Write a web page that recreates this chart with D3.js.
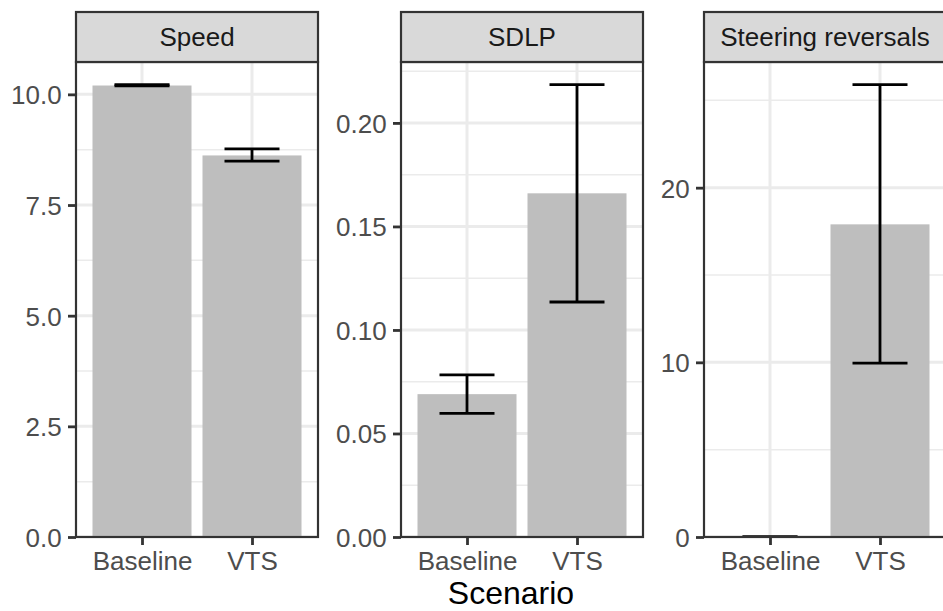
<!DOCTYPE html>
<html><head><meta charset="utf-8">
<script src="https://cdn.jsdelivr.net/npm/d3@7"></script>
<style>
html,body{margin:0;padding:0;background:#fff;}
svg{display:block;font-family:"Liberation Sans",Arial,Helvetica,sans-serif;}
</style></head>
<body><svg id="chart" width="943" height="611"></svg>
<script>
const categories = ["Baseline", "VTS"];
const facets = ["Speed", "SDLP", "Steering reversals"];
const speedMean = [10.20, 8.62];
const speedLower = [10.19, 8.49];
const speedUpper = [10.22, 8.77];
const sdlpMean = [0.069, 0.166];
const sdlpLower = [0.0597, 0.1135];
const sdlpUpper = [0.0783, 0.2185];
const steerMean = [0, 17.9];
const steerLower = [0, 9.95];
const steerUpper = [0, 25.9];
const speedTicks = [0, 2.5, 5, 7.5, 10];
const speedMinor = [1.25, 3.75, 6.25, 8.75];
const sdlpTicks = [0, 0.05, 0.10, 0.15, 0.20];
const sdlpMinor = [0.025, 0.075, 0.125, 0.175, 0.225];
const steerTicks = [0, 10, 20];
const steerMinor = [5, 15, 25];
const xTitle = "Scenario";

const panels = [
  {name: facets[0], mean: speedMean, lo: speedLower, hi: speedUpper, ticks: speedTicks, minor: speedMinor, fmt: d3.format(".1f")},
  {name: facets[1], mean: sdlpMean, lo: sdlpLower, hi: sdlpUpper, ticks: sdlpTicks, minor: sdlpMinor, fmt: d3.format(".2f")},
  {name: facets[2], mean: steerMean, lo: steerLower, hi: steerUpper, ticks: steerTicks, minor: steerMinor, fmt: d3.format("d")}
];

const svg = d3.select("#chart");
const panelLeft = [76, 401, 704];
const panelW = 242;
const stripTop = 12, panelTop = 62, panelBottom = 537;
const border = "#333333", grid = "#EBEBEB", barFill = "#BEBEBE", textCol = "#4D4D4D";
const fs = 26, titleFs = 32;
const fontFam = "Liberation Sans, Arial, sans-serif";

panels.forEach((p, i) => {
  const x0 = panelLeft[i];
  const x = d3.scalePoint().domain(categories).range([x0, x0 + panelW]).padding(0.6);
  const step = x.step();
  const ymax = d3.max(p.hi.concat(p.mean)) * 1.05;
  const y = d3.scaleLinear().domain([0, ymax]).range([panelBottom, panelTop]);
  const g = svg.append("g");

  const clipId = "clip" + i;
  svg.append("clipPath").attr("id", clipId).append("rect")
    .attr("x", x0).attr("y", panelTop).attr("width", panelW).attr("height", panelBottom - panelTop);
  const inner = g.append("g").attr("clip-path", `url(#${clipId})`);

  inner.append("rect").attr("x", x0).attr("y", panelTop).attr("width", panelW).attr("height", panelBottom - panelTop).attr("fill", "#fff");
  inner.selectAll(".ymin").data(p.minor).join("line")
    .attr("x1", x0).attr("x2", x0 + panelW)
    .attr("y1", d => y(d)).attr("y2", d => y(d))
    .attr("stroke", grid).attr("stroke-width", 1.5);
  inner.selectAll(".ymaj").data(p.ticks).join("line")
    .attr("x1", x0).attr("x2", x0 + panelW)
    .attr("y1", d => y(d)).attr("y2", d => y(d))
    .attr("stroke", grid).attr("stroke-width", 3);
  inner.selectAll(".xmaj").data(categories).join("line")
    .attr("x1", d => x(d)).attr("x2", d => x(d))
    .attr("y1", panelTop).attr("y2", panelBottom)
    .attr("stroke", grid).attr("stroke-width", 3);

  inner.selectAll(".bar").data(categories).join("rect")
    .attr("x", d => x(d) - step * 0.45)
    .attr("width", step * 0.9)
    .attr("y", (d, j) => y(p.mean[j]))
    .attr("height", (d, j) => y(0) - y(p.mean[j]))
    .attr("fill", barFill);

  const eb = inner.selectAll(".eb").data(categories).join("g");
  const hw = step * 0.25;
  const ebw = 2.8;
  eb.append("line")
    .attr("x1", d => x(d)).attr("x2", d => x(d))
    .attr("y1", (d, j) => y(p.lo[j])).attr("y2", (d, j) => y(p.hi[j]))
    .attr("stroke", "#000").attr("stroke-width", ebw);
  eb.append("line")
    .attr("x1", d => x(d) - hw).attr("x2", d => x(d) + hw)
    .attr("y1", (d, j) => y(p.lo[j])).attr("y2", (d, j) => y(p.lo[j]))
    .attr("stroke", "#000").attr("stroke-width", ebw);
  eb.append("line")
    .attr("x1", d => x(d) - hw).attr("x2", d => x(d) + hw)
    .attr("y1", (d, j) => y(p.hi[j])).attr("y2", (d, j) => y(p.hi[j]))
    .attr("stroke", "#000").attr("stroke-width", ebw);

  g.append("rect").attr("x", x0).attr("y", panelTop).attr("width", panelW).attr("height", panelBottom - panelTop)
    .attr("fill", "none").attr("stroke", border).attr("stroke-width", 2.2);
  g.append("rect").attr("x", x0).attr("y", stripTop).attr("width", panelW).attr("height", panelTop - stripTop)
    .attr("fill", "#D9D9D9").attr("stroke", border).attr("stroke-width", 2.2);
  g.append("text").attr("x", x0 + panelW / 2).attr("y", (stripTop + panelTop) / 2)
    .attr("text-anchor", "middle").attr("dy", "0.36em")
    .attr("font-size", fs).attr("font-family", fontFam).attr("fill", "#1A1A1A").text(p.name);

  const yAxis = d3.axisLeft(y).tickValues(p.ticks).tickFormat(p.fmt).tickSize(8).tickPadding(6.3);
  const ya = g.append("g").attr("transform", `translate(${x0},0)`).call(yAxis);
  ya.select(".domain").remove();
  ya.selectAll(".tick line").attr("stroke", border).attr("stroke-width", 2.8);
  ya.selectAll(".tick text").attr("fill", textCol).attr("font-size", fs).attr("font-family", fontFam)
    .attr("dy", "0.36em");

  const xAxis = d3.axisBottom(x).tickSize(8).tickPadding(6.7);
  const xa = g.append("g").attr("transform", `translate(0,${panelBottom})`).call(xAxis);
  xa.select(".domain").remove();
  xa.selectAll(".tick line").attr("stroke", border).attr("stroke-width", 2.8);
  xa.selectAll(".tick text").attr("fill", textCol).attr("font-size", fs).attr("font-family", fontFam);
});

svg.append("text").attr("x", 511).attr("y", 604)
  .attr("text-anchor", "middle").attr("font-size", titleFs).attr("font-family", fontFam)
  .attr("fill", "#000").text(xTitle);
</script></body></html>
